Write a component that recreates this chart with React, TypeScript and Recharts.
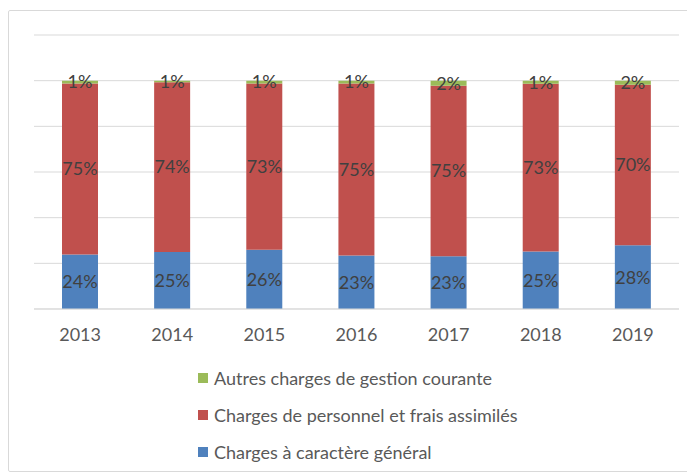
import React from 'react';
import { BarChart, Bar, XAxis, YAxis, CartesianGrid, Legend, LabelList } from 'recharts';

const years = ['2013', '2014', '2015', '2016', '2017', '2018', '2019'];
const general = [23.9, 25.0, 25.9, 23.4, 23.1, 25.2, 27.9];
const personnel = [74.9, 74.3, 72.9, 75.4, 74.7, 73.4, 70.3];
const autres = [1.2, 0.7, 1.2, 1.2, 2.2, 1.4, 1.8];
const yTicks = [0, 20, 40, 60, 80, 100, 120];

const SERIES = [
  { key: 'general', name: 'Charges à caractère général', color: '#4F81BD' },
  { key: 'personnel', name: 'Charges de personnel et frais assimilés', color: '#C0504D' },
  { key: 'autres', name: 'Autres charges de gestion courante', color: '#9BBB59' }
];

const data = years.map((year, i) => ({
  year,
  general: general[i],
  personnel: personnel[i],
  autres: autres[i]
}));

const FONT = 'Lato, "Open Sans", sans-serif';

const pct = (v: any) => `${Math.round(Number(v))}%`;

const renderLegend = () => (
  <div style={{ height: 117, paddingTop: 10, paddingLeft: 164, boxSizing: 'border-box' }}>
    {[...SERIES].reverse().map((s) => (
      <div
        key={s.key}
        style={{ display: 'flex', alignItems: 'center', height: 37, fontFamily: FONT, fontSize: 18, color: '#595959' }}
      >
        <span style={{ width: 10, height: 10, background: s.color, marginRight: 6, display: 'inline-block' }} />
        {s.name}
      </div>
    ))}
  </div>
);

export default function App() {
  return (
    <div
      style={{
        marginTop: 2,
        width: 680,
        height: 460,
        border: '1px solid #d9d9d9',
        borderRadius: 2,
        background: '#fff'
      }}
    >
      <BarChart
        width={680}
        height={460}
        data={data}
        barSize={36}
        margin={{ top: 24, right: 10, bottom: 5, left: 25 }}
        style={{ fontFamily: FONT }}
      >
        <CartesianGrid vertical={false} stroke="#d9d9d9" />
        <YAxis hide domain={[0, 120]} ticks={yTicks} />
        <XAxis
          dataKey="year"
          height={40}
          tickLine={false}
          tickMargin={13}
          axisLine={{ stroke: '#d9d9d9' }}
          tick={{ fill: '#595959', fontSize: 18 }}
        />
        <Legend verticalAlign="bottom" content={renderLegend} />
        {SERIES.map((s) => (
          <Bar key={s.key} dataKey={s.key} name={s.name} stackId="a" fill={s.color} isAnimationActive={false}>
            <LabelList dataKey={s.key} position="center" formatter={pct} fill="#404040" fontSize={18} />
          </Bar>
        ))}
      </BarChart>
    </div>
  );
}
